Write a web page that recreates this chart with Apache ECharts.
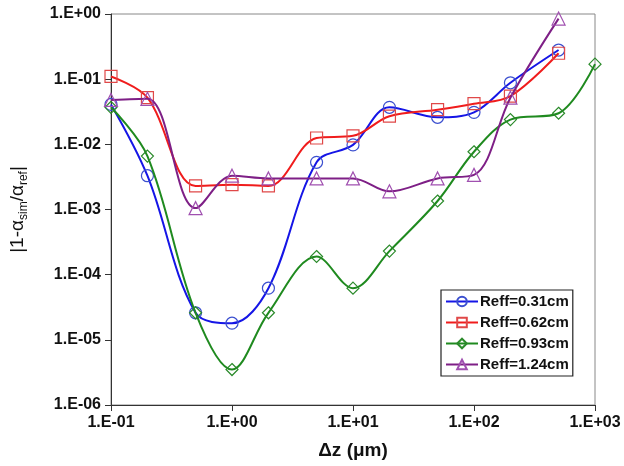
<!DOCTYPE html>
<html>
<head>
<meta charset="utf-8">
<script src="https://cdn.jsdelivr.net/npm/echarts@6/dist/echarts.min.js"></script>
<style>
html,body{margin:0;padding:0;background:#fff;}
#c{width:624px;height:466px;}
</style>
</head>
<body>
<div id="c"></div>
<script>
const dz = [0.1, 0.2, 0.5, 1, 2, 5, 10, 20, 50, 100, 200, 500, 1000];
const reff031 = [0.041, 0.0033, 2.6e-5, 1.8e-5, 6.2e-5, 0.0053, 0.0098, 0.037, 0.026, 0.031, 0.088, 0.28, null];
const reff062 = [0.11, 0.052, 0.0023, 0.0024, 0.0023, 0.0125, 0.0135, 0.027, 0.034, 0.042, 0.055, 0.25, null];
const reff093 = [0.037, 0.0066, 2.6e-5, 3.5e-6, 2.6e-5, 1.9e-4, 6.2e-5, 2.3e-4, 1.35e-3, 0.0077, 0.024, 0.030, 0.17];
const reff124 = [0.048, 0.050, 0.00105, 0.0033, 0.0030, 0.0030, 0.0030, 0.0019, 0.0030, 0.0034, 0.052, 0.85, null];
const seriesNames = ['Reff=0.31cm', 'Reff=0.62cm', 'Reff=0.93cm', 'Reff=1.24cm'];
const xRange = [0.1, 1000];
const yRange = [1e-6, 1];

function fmt(v) {
  const e = Math.round(Math.log10(v));
  return '1.E' + (e < 0 ? '-' : '+') + String(Math.abs(e)).padStart(2, '0');
}

const colors = ['#1515e6', '#f01c1c', '#1f8a1f', '#7e1f86'];
const markerColors = ['#3b4fcf', '#e04848', '#2a8a2a', '#a050b0'];
const symbols = ['circle', 'rect', 'diamond', 'triangle'];
const dataSets = [reff031, reff062, reff093, reff124];

const FF = 'Liberation Sans, Arial, sans-serif';
const labelFont = {fontFamily: FF, fontWeight: 'bold', fontSize: 16, color: '#111'};

const series = dataSets.map((d, i) => ({
  name: seriesNames[i],
  type: 'line',
  data: dz.map((x, j) => d[j] == null ? null : [x, d[j]]).filter(p => p),
  smooth: 0.35,
  symbol: symbols[i],
  symbolSize: i === 3 ? 13 : 12,
  lineStyle: {color: colors[i], width: 2},
  itemStyle: {color: 'rgba(255,255,255,0)', borderColor: markerColors[i], borderWidth: 1.2},
  z: 2 + i
}));

const chart = echarts.init(document.getElementById('c'), null, {renderer: 'canvas'});
chart.setOption({
  animation: false,
  backgroundColor: '#fff',
  grid: {left: 108, right: 29, top: 14, bottom: 61, show: true, borderColor: '#888', borderWidth: 1},
  legend: {
    orient: 'vertical', left: 441, top: 290, width: 137,
    backgroundColor: '#fff', borderColor: '#222', borderWidth: 1.2, borderRadius: 0,
    padding: [4, 4, 4, 4], itemGap: 6, itemWidth: 32, itemHeight: 12,
    textStyle: {fontFamily: FF, fontWeight: 'bold', fontSize: 15, color: '#111', padding: [0, 0, 0, -3]},
    data: seriesNames
  },
  xAxis: {
    type: 'log', logBase: 10, min: xRange[0], max: xRange[1],
    position: 'bottom',
    axisLine: {show: true, onZero: false, lineStyle: {color: '#333', width: 1}},
    axisTick: {show: true, inside: false, length: 6, lineStyle: {color: '#333'}},
    axisLabel: Object.assign({margin: 10, formatter: fmt}, labelFont),
    splitLine: {show: false},
    name: 'Δz (μm)', nameLocation: 'middle', nameGap: 36,
    nameTextStyle: {fontFamily: FF, fontWeight: 'bold', fontSize: 19, color: '#111'}
  },
  yAxis: {
    type: 'log', logBase: 10, min: yRange[0], max: yRange[1],
    position: 'left',
    axisLine: {show: true, onZero: false, lineStyle: {color: '#333', width: 1}},
    axisTick: {show: true, length: 6, lineStyle: {color: '#333'}},
    axisLabel: Object.assign({margin: 10, formatter: fmt}, labelFont),
    splitLine: {show: false},
    name: '{n||1-α}{s|sim}{n|/α}{s|ref}{n||}', nameLocation: 'middle', nameGap: 84, nameRotate: 90,
    nameTextStyle: {
      rich: {
        n: {fontFamily: FF, fontSize: 19, color: '#111', lineHeight: 22, verticalAlign: 'bottom'},
        s: {fontFamily: FF, fontSize: 12, color: '#111', lineHeight: 18, verticalAlign: 'bottom', padding: [0, 0, -3, 0]}
      }
    }
  },
  series: series
});
</script>
</body>
</html>
